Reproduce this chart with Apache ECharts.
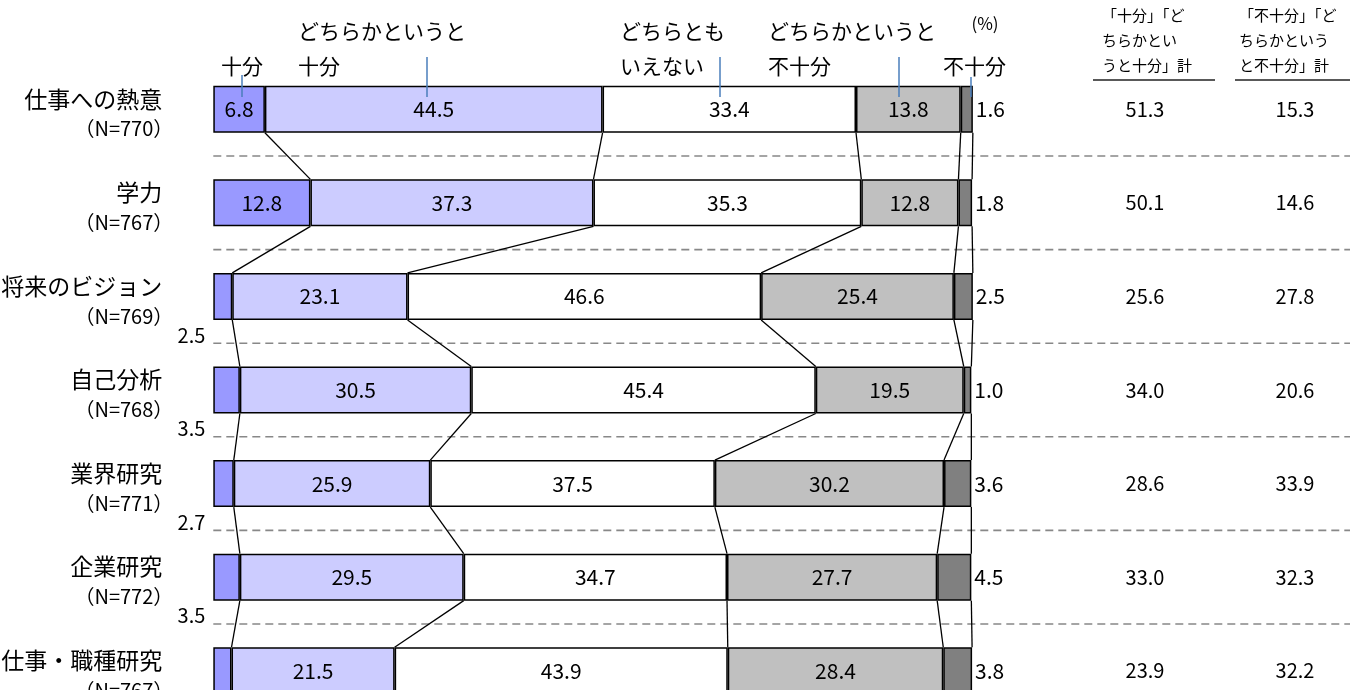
<!DOCTYPE html>
<html><head><meta charset="utf-8">
<script src="https://cdn.jsdelivr.net/npm/echarts@6/dist/echarts.min.js"></script>
<style>html,body{margin:0;padding:0;background:#fff}#c{width:1350px;height:690px}</style>
</head><body><div id="c"></div>
<script>
const categories = ['仕事への熱意','学力','将来のビジョン','自己分析','業界研究','企業研究','仕事・職種研究'];
const sampleSizes = [770,767,769,768,771,772,767];
const seriesNames = ['十分','どちらかというと十分','どちらともいえない','どちらかというと不十分','不十分'];
const juubun = [6.8,12.8,2.5,3.5,2.7,3.5,2.4];
const yayaJuubun = [44.5,37.3,23.1,30.5,25.9,29.5,21.5];
const dochiramo = [33.4,35.3,46.6,45.4,37.5,34.7,43.9];
const yayaFujuubun = [13.8,12.8,25.4,19.5,30.2,27.7,28.4];
const fujuubun = [1.6,1.8,2.5,1.0,3.6,4.5,3.8];
const totalJuubun = [51.3,50.1,25.6,34.0,28.6,33.0,23.9];
const totalFujuubun = [15.3,14.6,27.8,20.6,33.9,32.3,32.2];

const FONT = "'Noto Sans CJK JP', sans-serif";
const colors = ['#9999FF','#CCCCFF','#FFFFFF','#C0C0C0','#808080'];
const segs = [juubun, yayaJuubun, dochiramo, yayaFujuubun, fujuubun];
const BAR_W = 47;

// cumulative boundaries per row
const cum = categories.map((c, i) => {
  let s = 0; return segs.map(a => (s += a[i], s));
});

const chart = echarts.init(document.getElementById('c'));

const barSeries = segs.map((arr, k) => ({
  name: seriesNames[k], type: 'bar', stack: 'total', barWidth: BAR_W, clip: false,
  itemStyle: { color: colors[k], borderColor: '#000', borderWidth: 1.5 },
  label: k === 4 ? {
    show: true, position: 'right', distance: 3, color: '#000', fontSize: 21, fontFamily: FONT,
    formatter: p => p.value.toFixed(1)
  } : {
    show: true, position: 'inside', color: '#000', fontSize: 21, fontFamily: FONT,
    formatter: p => p.value.toFixed(1)
  },
  data: arr.map((v, i) => {
    if (k === 0 && i >= 2) {
      return { value: v, label: { show: true, position: [-8, BAR_W + 15], align: 'right', verticalAlign: 'middle',
        color: '#000', fontSize: 20, fontFamily: FONT, formatter: p => p.value.toFixed(1) } };
    }
    return v;
  }),
  z: 2
}));

const decoSeries = {
  type: 'custom', clip: false, silent: true, z: 3,
  encode: { x: 0, y: 1 },
  data: categories.map((c, i) => [0, i]),
  renderItem: (params, api) => {
    const i = params.dataIndex;
    const yc = api.coord([0, i])[1];
    const children = [];
    children.push({ type: 'text', style: { x: 1145, y: yc, text: totalJuubun[i].toFixed(1), fontSize: 20, fontFamily: FONT, fill: '#000', align: 'center', verticalAlign: 'middle' } });
    children.push({ type: 'text', style: { x: 1295, y: yc, text: totalFujuubun[i].toFixed(1), fontSize: 20, fontFamily: FONT, fill: '#000', align: 'center', verticalAlign: 'middle' } });
    if (i < categories.length - 1) {
      const yn = api.coord([0, i + 1])[1];
      const x0 = api.coord([0, i])[0];
      children.push({ type: 'line', shape: { x1: x0, y1: (yc + yn) / 2, x2: api.getWidth(), y2: (yc + yn) / 2 },
        style: { stroke: '#888888', lineWidth: 1.6, lineDash: [8, 5] } });
      for (let k = 0; k < 5; k++) {
        const p1 = api.coord([cum[i][k], i]);
        const p2 = api.coord([cum[i + 1][k], i + 1]);
        children.push({ type: 'line', shape: { x1: p1[0], y1: yc + BAR_W / 2, x2: p2[0], y2: yn - BAR_W / 2 },
          style: { stroke: '#000', lineWidth: 1.3 } });
      }
    }
    return { type: 'group', children };
  }
};

const hdr = (text, x, y, extra) => Object.assign({ type: 'text', z: 10,
  style: { text, x, y, fontSize: 21, fontFamily: FONT, fill: '#000', verticalAlign: 'middle', align: 'left' } }, extra || {});
const leader = (x, y1, y2) => ({ type: 'line', z: 10, shape: { x1: x, y1, x2: x, y2 }, style: { stroke: '#4A7EBB', lineWidth: 1.5 } });

chart.setOption({
  animation: false,
  grid: { left: 213.3, top: 62.5, width: 758.8, height: 655, outerBoundsMode: 'none', containLabel: false },
  xAxis: { type: 'value', min: 0, max: 100, show: false },
  yAxis: {
    type: 'category', inverse: true, data: categories,
    axisLine: { show: false }, axisTick: { show: false }, splitLine: { show: false },
    axisLabel: {
      margin: 40, align: 'right', padding: [9, 0, 0, 0],
      formatter: (v, idx) => `{a|${v}}\n{b|（N=${sampleSizes[idx]}）}`,
      rich: {
        a: { fontSize: 23, lineHeight: 30, fontFamily: FONT, color: '#000', align: 'right', padding: [0, 11, 0, 0] },
        b: { fontSize: 20, lineHeight: 30, fontFamily: FONT, color: '#000', align: 'right' }
      }
    }
  },
  series: [...barSeries, decoSeries],
  graphic: [
    hdr('十分', 221, 66),
    hdr('どちらかというと', 298, 31), hdr('十分', 298, 66),
    hdr('どちらとも', 620, 31), hdr('いえない', 620, 66),
    hdr('どちらかというと', 768, 31), hdr('不十分', 768, 66),
    hdr('不十分', 943, 66),
    { type: 'text', z: 10, style: { text: '(%)', x: 985, y: 24, fontSize: 17, fontFamily: FONT, fill: '#000', align: 'center', verticalAlign: 'middle' } },
    leader(242, 75, 97), leader(427, 57, 97), leader(720, 57, 97), leader(899, 57, 97), leader(971, 77, 97),
    { type: 'text', z: 10, style: { text: '「十分」「ど\nちらかとい\nうと十分」計', x: 1102, y: 40, fontSize: 15, lineHeight: 25, fontFamily: FONT, fill: '#000', align: 'left', verticalAlign: 'middle' } },
    { type: 'text', z: 10, style: { text: '「不十分」「ど\nちらかという\nと不十分」計', x: 1239, y: 40, fontSize: 15, lineHeight: 25, fontFamily: FONT, fill: '#000', align: 'left', verticalAlign: 'middle' } },
    { type: 'line', z: 10, shape: { x1: 1093, y1: 80, x2: 1215, y2: 80 }, style: { stroke: '#595959', lineWidth: 2 } },
    { type: 'line', z: 10, shape: { x1: 1235, y1: 80, x2: 1350, y2: 80 }, style: { stroke: '#595959', lineWidth: 2 } }
  ]
});
</script>
</body></html>
